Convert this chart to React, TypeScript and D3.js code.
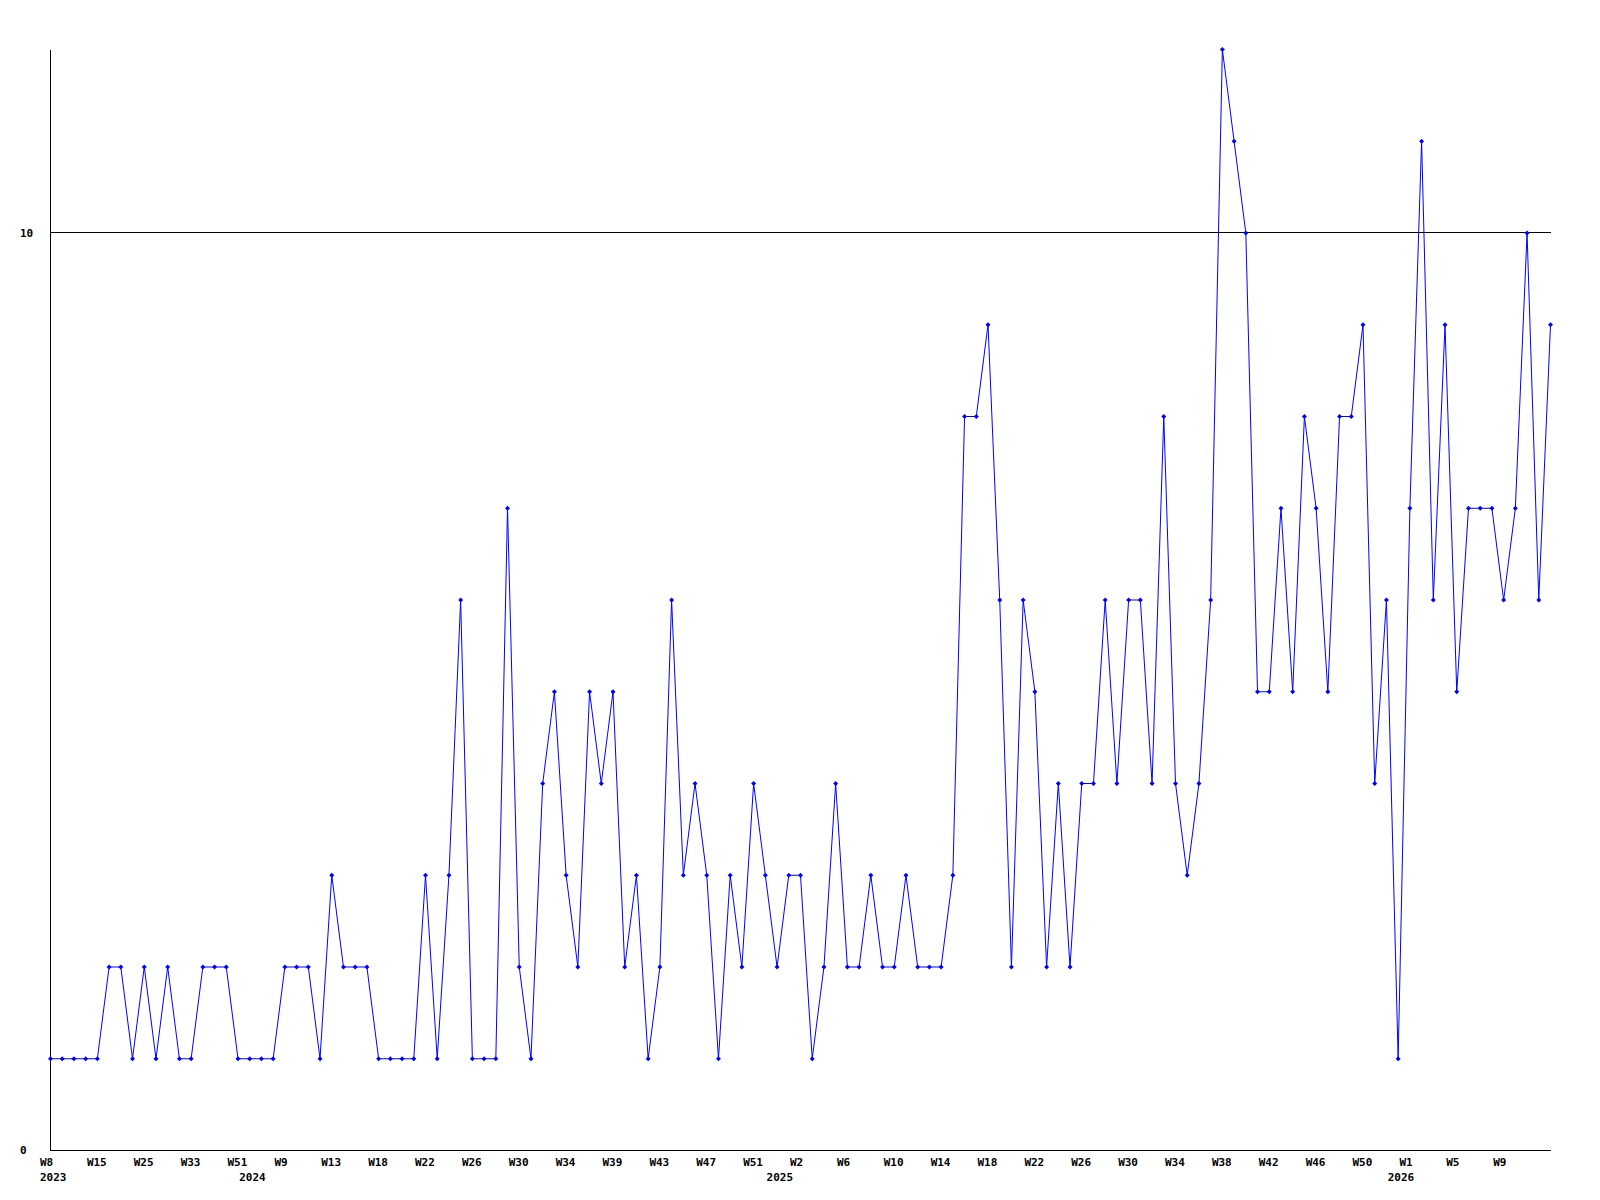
import React from "react";
import * as d3 from "d3";

// Weekly counts (one value per plotted week, in order)
const values: number[] = [
  1, 1, 1, 1, 1, 2, 2, 1, 2, 1,
  2, 1, 1, 2, 2, 2, 1, 1, 1, 1,
  2, 2, 2, 1, 3, 2, 2, 2, 1, 1,
  1, 1, 3, 1, 3, 6, 1, 1, 1, 7,
  2, 1, 4, 5, 3, 2, 5, 4, 5, 2,
  3, 1, 2, 6, 3, 4, 3, 1, 3, 2,
  4, 3, 2, 3, 3, 1, 2, 4, 2, 2,
  3, 2, 2, 3, 2, 2, 2, 3, 8, 8,
  9, 6, 2, 6, 5, 2, 4, 2, 4, 4,
  6, 4, 6, 6, 4, 8, 4, 3, 4, 6,
  12, 11, 10, 5, 5, 7, 5, 8, 7, 5,
  8, 8, 9, 4, 6, 1, 7, 11, 6, 9,
  5, 7, 7, 7, 6, 7, 10, 6, 9,
];

// Week tick labels, one for every 4th plotted week
const weekTickLabels: string[] = [
  "W8", "W15", "W25", "W33", "W51", "W9", "W13", "W18", "W22", "W26", "W30",
  "W34", "W39", "W43", "W47", "W51", "W2", "W6", "W10", "W14", "W18", "W22",
  "W26", "W30", "W34", "W38", "W42", "W46", "W50", "W1", "W5", "W9",
];
const tickEvery = 4;

// Year labels and the index of the first plotted week of that year
const yearLabels: string[] = ["2023", "2024", "2025", "2026"];
const yearStartIndex: number[] = [0, 17, 62, 115];

const yTickValues: number[] = [0, 10];
const yMax = 12;

const W = 1600;
const H = 1200;
const left = 50.5;
const right = 1550.5;
const top = 49.5;
const bottom = 1150.5;
const FONT = "'DejaVu Sans Mono', 'Liberation Mono', monospace";

export default function App() {
  const idx = d3.range(values.length);
  const x = d3.scalePoint<number>().domain(idx).range([left, right]);
  const y = d3.scaleLinear().domain([0, yMax]).range([bottom, top]);

  const line = d3
    .line<number>()
    .x((_, i) => x(i) as number)
    .y((d) => y(d));

  const diamond = (cx: number, cy: number) =>
    `M${cx},${cy - 2.5}L${cx + 2.5},${cy}L${cx},${cy + 2.5}L${cx - 2.5},${cy}Z`;

  return (
    <svg
      width={W}
      height={H}
      style={{ position: "absolute", left: 0, top: 0, background: "#fff" }}
    >
      <rect x={0} y={0} width={W} height={H} fill="#fff" />
      {/* gridline at 10 */}
      {yTickValues
        .filter((v) => v !== 0)
        .map((v) => (
          <line
            key={"g" + v}
            x1={left}
            x2={right}
            y1={Math.floor(y(v)) + 0.5}
            y2={Math.floor(y(v)) + 0.5}
            stroke="#000"
            strokeWidth={1}
            shapeRendering="crispEdges"
          />
        ))}
      {/* axes */}
      <line x1={left} x2={left} y1={top} y2={bottom} stroke="#000" shapeRendering="crispEdges" />
      <line x1={left} x2={right} y1={bottom} y2={bottom} stroke="#000" shapeRendering="crispEdges" />

      {/* y labels */}
      {yTickValues.map((v) => (
        <text
          key={"y" + v}
          x={20}
          y={y(v)}
          dy="0.35em"
          fontFamily={FONT}
          fontWeight="bold"
          fontSize={11}
          fill="#000"
        >
          {v}
        </text>
      ))}

      {/* week labels */}
      {weekTickLabels.map((lab, k) => (
        <text
          key={"w" + k}
          x={(x(k * tickEvery) as number) - 10.5}
          y={1166}
          fontFamily={FONT}
          fontWeight="bold"
          fontSize={11}
          fill="#000"
        >
          {lab}
        </text>
      ))}

      {/* year labels */}
      {yearLabels.map((lab, k) => (
        <text
          key={"yr" + k}
          x={(x(yearStartIndex[k]) as number) - 10.5}
          y={1181}
          fontFamily={FONT}
          fontWeight="bold"
          fontSize={11}
          fill="#000"
        >
          {lab}
        </text>
      ))}

      {/* series */}
      <path d={line(values) || ""} fill="none" stroke="#0000ff" strokeWidth={1} />
      {values.map((v, i) => (
        <path key={"m" + i} d={diamond(x(i) as number, y(v))} fill="#0000ff" />
      ))}
    </svg>
  );
}
